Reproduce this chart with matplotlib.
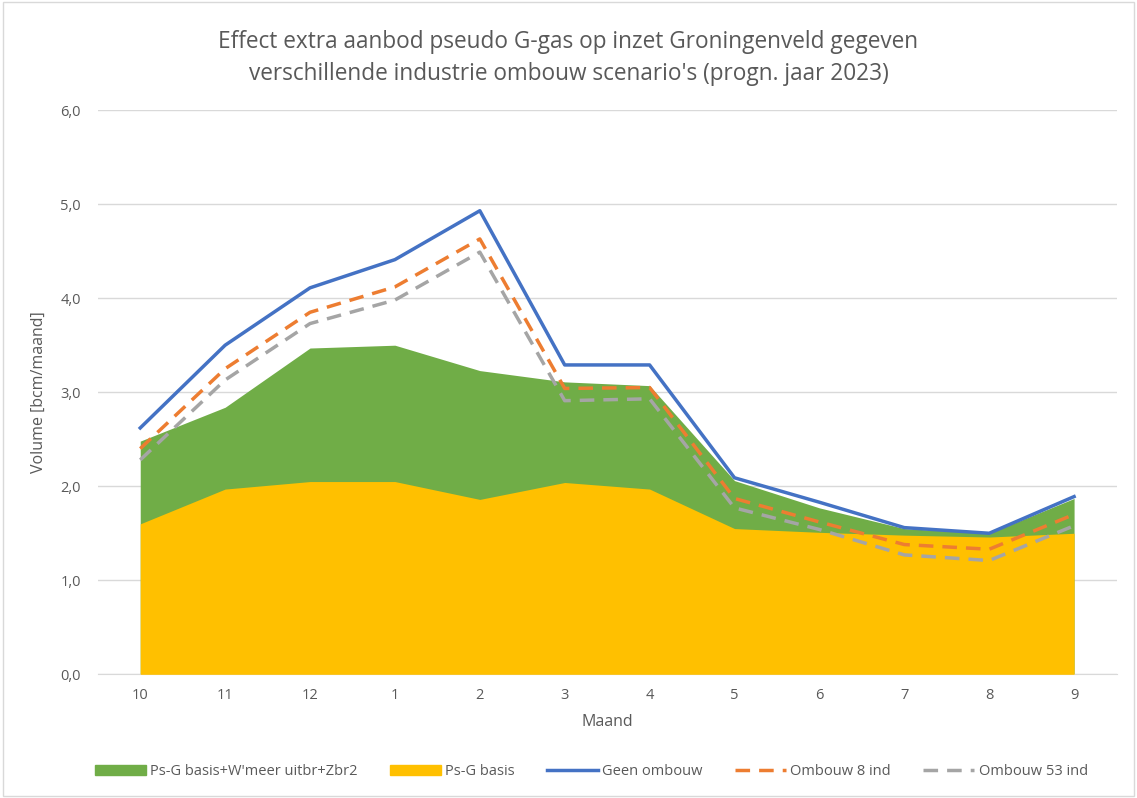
import matplotlib.pyplot as plt
from matplotlib.patches import Patch, Rectangle
from matplotlib.lines import Line2D
from matplotlib.ticker import FuncFormatter

plt.rcParams['font.family'] = ['Open Sans', 'DejaVu Sans']

maanden = ['10', '11', '12', '1', '2', '3', '4', '5', '6', '7', '8', '9']

psg_totaal = [2.48, 2.84, 3.47, 3.50, 3.23, 3.11, 3.07, 2.06, 1.77, 1.55, 1.50, 1.87]
psg_basis = [1.60, 1.97, 2.05, 2.05, 1.86, 2.04, 1.97, 1.55, 1.51, 1.48, 1.46, 1.50]
geen_ombouw = [2.62, 3.50, 4.11, 4.41, 4.93, 3.29, 3.29, 2.09, 1.83, 1.56, 1.50, 1.89]
ombouw_8 = [2.40, 3.25, 3.85, 4.12, 4.63, 3.04, 3.05, 1.87, 1.62, 1.38, 1.33, 1.70]
ombouw_53 = [2.28, 3.13, 3.73, 3.98, 4.49, 2.91, 2.93, 1.77, 1.54, 1.27, 1.21, 1.58]

GROEN = '#70AD47'
GEEL = '#FFC000'
BLAUW = '#4472C4'
ORANJE = '#ED7D31'
GRIJS = '#A5A5A5'
TEKST = '#595959'

fig = plt.figure(figsize=(11.37, 7.98), dpi=100)
ax = fig.add_axes([0.086, 0.155, 0.896, 0.707])

x = list(range(len(maanden)))
ax.fill_between(x, 0, psg_totaal, color=GROEN, lw=0, zorder=2)
ax.fill_between(x, 0, psg_basis, color=GEEL, lw=0, zorder=3)
ax.plot(x, geen_ombouw, color=BLAUW, lw=2.5, zorder=5, solid_joinstyle='round')
ax.plot(x, ombouw_8, color=ORANJE, lw=2.5, dashes=(4.2, 2.6), zorder=5)
ax.plot(x, ombouw_53, color=GRIJS, lw=2.5, dashes=(4.2, 2.6), zorder=4)

ax.set_xlim(-0.5, len(maanden) - 0.5)
ax.set_ylim(0, 6)
ax.set_yticks([0, 1, 2, 3, 4, 5, 6])
ax.yaxis.set_major_formatter(FuncFormatter(lambda v, p: f"{v:.1f}".replace('.', ',')))
ax.set_xticks(x)
ax.set_xticklabels(maanden)
ax.tick_params(length=0, colors=TEKST, labelsize=10.5)
ax.tick_params(axis='x', pad=10)
ax.tick_params(axis='y', pad=12)
ax.grid(axis='y', color='#D9D9D9', lw=1, zorder=0)
ax.set_axisbelow(True)
for s in ['top', 'right', 'left']:
    ax.spines[s].set_visible(False)
ax.spines['bottom'].set_color('#D9D9D9')

ax.set_xlabel('Maand', color=TEKST, fontsize=11.5, labelpad=8)
ax.set_ylabel('Volume [bcm/maand]', color=TEKST, fontsize=11.5, labelpad=10)

fig.text(0.5, 0.927, 'Effect extra aanbod pseudo G-gas op inzet Groningenveld gegeven\n'
         "verschillende industrie ombouw scenario's (progn. jaar 2023)",
         ha='center', va='center', fontsize=16.3, color=TEKST, linespacing=1.45)

handles = [
    Patch(color=GROEN, label="Ps-G basis+W'meer uitbr+Zbr2"),
    Patch(color=GEEL, label='Ps-G basis'),
    Line2D([], [], color=BLAUW, lw=2.5, label='Geen ombouw'),
    Line2D([], [], color=ORANJE, lw=2.5, dashes=(4.2, 2.6), label='Ombouw 8 ind'),
    Line2D([], [], color=GRIJS, lw=2.5, dashes=(4.2, 2.6), label='Ombouw 53 ind'),
]
fig.legend(handles=handles, loc='center', bbox_to_anchor=(0.52, 0.033), ncol=5,
           frameon=False, fontsize=10.5, labelcolor=TEKST, handlelength=3.5,
           handleheight=0.6, columnspacing=2.2, handletextpad=0.3)

fig.patches.append(Rectangle((0.003, 0.003), 0.994, 0.994, transform=fig.transFigure,
                             fill=False, edgecolor='#D9D9D9', lw=1))

fig.savefig('out.png', dpi=100)
